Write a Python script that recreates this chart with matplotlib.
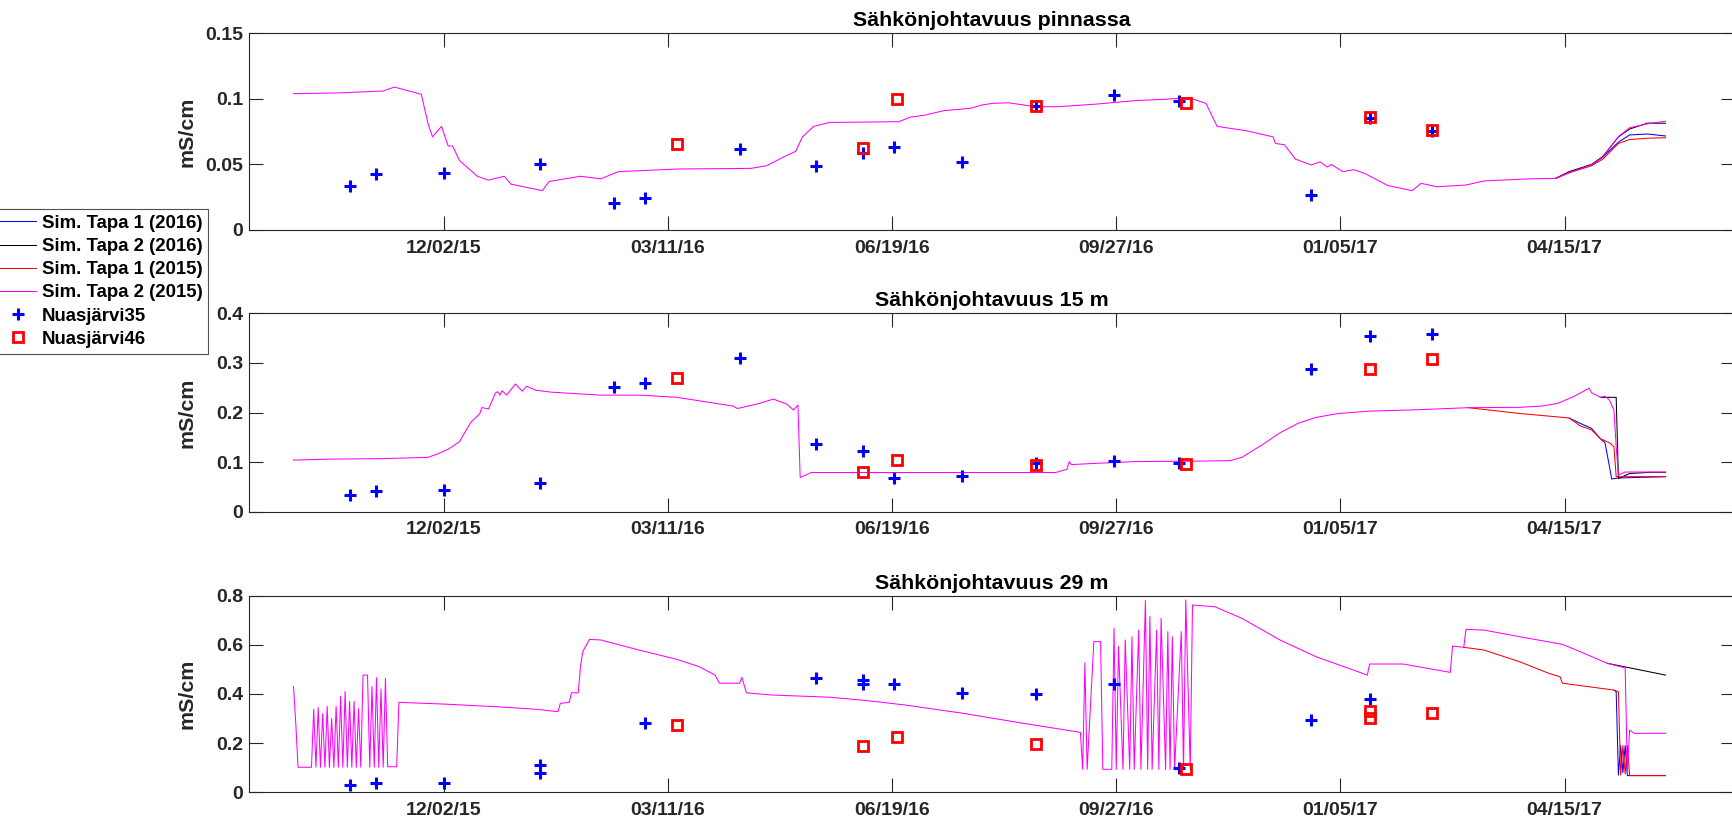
import matplotlib
matplotlib.use("Agg")
import matplotlib.pyplot as plt
import matplotlib.dates as mdates
import pandas as pd
from matplotlib.ticker import FuncFormatter, FixedLocator

plt.rcParams["font.family"] = ["Liberation Sans", "DejaVu Sans"]
plt.rcParams["font.weight"] = "bold"

titles = ["Sähkönjohtavuus pinnassa", "Sähkönjohtavuus 15 m", "Sähkönjohtavuus 29 m"]
labels = ["Sim. Tapa 1 (2016)", "Sim. Tapa 2 (2016)", "Sim. Tapa 1 (2015)",
          "Sim. Tapa 2 (2015)", "Nuasjärvi35", "Nuasjärvi46"]
tick_dates = ["2015-12-02", "2016-03-11", "2016-06-19", "2016-09-27", "2017-01-05", "2017-04-15"]

# --- pinnassa: Sim. Tapa 2 (2015) full path; the other runs only where they split off
p1_t = ["2015-09-26", "2015-10-15", "2015-11-05", "2015-11-10", "2015-11-22", "2015-11-25",
        "2015-11-27", "2015-12-01", "2015-12-04", "2015-12-06", "2015-12-09", "2015-12-17",
        "2015-12-22", "2015-12-29", "2016-01-01", "2016-01-15", "2016-01-18", "2016-02-01",
        "2016-02-10", "2016-02-18", "2016-03-15", "2016-04-17", "2016-04-24", "2016-05-02",
        "2016-05-07", "2016-05-10", "2016-05-15", "2016-05-22", "2016-06-22", "2016-06-27",
        "2016-07-04", "2016-07-12", "2016-07-24", "2016-07-29", "2016-08-03", "2016-08-10",
        "2016-08-22", "2016-09-01", "2016-09-18", "2016-10-05", "2016-10-19", "2016-10-29",
        "2016-11-06", "2016-11-11", "2016-11-24", "2016-12-06", "2016-12-07", "2016-12-11",
        "2016-12-16", "2016-12-23", "2016-12-27", "2016-12-30", "2017-01-01", "2017-01-06",
        "2017-01-11", "2017-01-16", "2017-01-26", "2017-02-06", "2017-02-10", "2017-02-17",
        "2017-03-02", "2017-03-10", "2017-03-30", "2017-04-11", "2017-04-17", "2017-04-27",
        "2017-05-02", "2017-05-09", "2017-05-14", "2017-05-22", "2017-05-30"]
p1_v = [.104, .1045, .106, .109, .1035, .081,
        .071, .079, .064, .064, .053, .041,
        .038, .041, .035, .030, .037, .041,
        .039, .0445, .0465, .047, .049, .056,
        .060, .071, .079, .082, .0826, .086,
        .0877, .091, .0928, .0953, .0966, .097,
        .094, .094, .096, .0986, .0997, .101,
        .0966, .079, .0757, .071, .066, .065,
        .054, .0496, .052, .048, .050, .0445,
        .046, .043, .034, .030, .0356, .033,
        .0343, .0374, .039, .0394, .0437, .0496,
        .0555, .0712, .078, .081, .083]
p1_split_t = ["2017-04-11", "2017-04-17", "2017-04-27", "2017-05-02", "2017-05-09", "2017-05-14",
              "2017-05-22", "2017-05-30"]
p1_blu = [.0394, .0437, .0496, .0555, .067, .0725, .0732, .0717]
p1_blk = [.0394, .0445, .050, .056, .071, .077, .0815, .0814]
p1_red = [.0394, .0437, .049, .054, .066, .069, .070, .0704]

# --- 15 m
p2_t = ["2015-09-26", "2015-10-12", "2015-11-05", "2015-11-25", "2015-11-29", "2015-12-04",
        "2015-12-09", "2015-12-14", "2015-12-18", "2015-12-19", "2015-12-22", "2015-12-25",
        "2015-12-26", "2015-12-27", "2015-12-28", "2015-12-30", "2016-01-03", "2016-01-06",
        "2016-01-08", "2016-01-12", "2016-01-19", "2016-02-10", "2016-02-28", "2016-03-15",
        "2016-04-09", "2016-04-11", "2016-04-21", "2016-04-27", "2016-05-03", "2016-05-06",
        "2016-05-08", "2016-05-09", "2016-05-14", "2016-08-31", "2016-09-05", "2016-09-06",
        "2016-09-07", "2016-09-18", "2016-10-05", "2016-11-03", "2016-11-17", "2016-11-22",
        "2016-12-01", "2016-12-09", "2016-12-17", "2016-12-25", "2017-01-04", "2017-01-19",
        "2017-02-05", "2017-03-03", "2017-03-26", "2017-04-05", "2017-04-12", "2017-04-19",
        "2017-04-26", "2017-04-27", "2017-05-01", "2017-05-03", "2017-05-05", "2017-05-07",
        "2017-05-08", "2017-05-09", "2017-05-12", "2017-05-30"]
p2_v = [.104, .106, .107, .1096, .116, .126,
        .141, .180, .197, .210, .207, .239,
        .242, .235, .244, .235, .2575, .243,
        .253, .245, .241, .235, .235, .2306,
        .213, .208, .2185, .227, .217, .205,
        .215, .069, .079, .079, .0855, .101,
        .095, .0975, .101, .102, .103, .1096,
        .1345, .159, .178, .190, .198, .203,
        .205, .2097, .2104, .213, .2185, .232,
        .249, .240, .2306, .233, .225, .205,
        .131, .074, .080, .080]
p2_blk_t = ["2017-05-01", "2017-05-08", "2017-05-09", "2017-05-14", "2017-05-23", "2017-05-30"]
p2_blk = [.2306, .2306, .067, .077, .0794, .0794]
p2_blu_t = ["2017-04-17", "2017-04-22", "2017-04-27", "2017-05-01",
            "2017-05-03", "2017-05-05", "2017-05-06", "2017-05-09", "2017-05-30"]
p2_blu = [.189, .178, .168, .147, .139, .091, .066, .068, .0706]
p2_red_t = ["2017-03-03", "2017-03-26", "2017-04-17", "2017-04-22", "2017-04-27", "2017-05-01",
            "2017-05-05", "2017-05-07", "2017-05-08", "2017-05-30"]
p2_red = [.2097, .198, .189, .173, .165, .147, .139, .131, .0706, .0706]

# --- 29 m
p3_t = ["2015-09-26", "2015-09-27", "2015-09-28", "2015-10-04",
        "2015-10-05", "2015-10-06", "2015-10-07", "2015-10-08", "2015-10-09", "2015-10-10",
        "2015-10-11", "2015-10-12", "2015-10-13", "2015-10-14", "2015-10-15", "2015-10-16",
        "2015-10-17", "2015-10-18", "2015-10-19", "2015-10-20", "2015-10-21", "2015-10-22",
        "2015-10-23", "2015-10-24", "2015-10-25", "2015-10-26", "2015-10-27", "2015-10-29",
        "2015-10-30", "2015-10-31", "2015-11-01", "2015-11-02", "2015-11-03", "2015-11-04",
        "2015-11-05", "2015-11-06", "2015-11-07", "2015-11-11", "2015-11-12",
        "2015-12-02", "2015-12-26", "2016-01-12", "2016-01-22", "2016-01-23", "2016-01-27",
        "2016-01-28", "2016-01-31", "2016-02-01", "2016-02-02", "2016-02-05", "2016-02-10",
        "2016-02-27", "2016-03-15", "2016-03-25", "2016-04-01", "2016-04-03", "2016-04-12",
        "2016-04-13", "2016-04-15", "2016-04-26", "2016-05-22", "2016-06-08", "2016-06-25",
        "2016-07-21", "2016-08-15", "2016-09-11",
        "2016-09-12", "2016-09-13", "2016-09-14", "2016-09-17", "2016-09-20", "2016-09-21",
        "2016-09-25", "2016-09-26", "2016-09-27", "2016-09-28", "2016-09-30", "2016-10-01",
        "2016-10-03", "2016-10-04", "2016-10-05", "2016-10-07", "2016-10-08", "2016-10-10",
        "2016-10-11", "2016-10-12", "2016-10-13", "2016-10-15", "2016-10-16", "2016-10-17",
        "2016-10-19", "2016-10-20", "2016-10-21", "2016-10-22", "2016-10-23", "2016-10-26",
        "2016-10-27", "2016-10-28", "2016-10-30", "2016-10-31",
        "2016-11-10", "2016-11-22", "2016-12-09", "2016-12-25", "2017-01-17", "2017-01-18",
        "2017-02-02", "2017-02-23", "2017-02-24", "2017-03-01",
        "2017-03-02", "2017-03-10", "2017-03-26", "2017-04-14", "2017-04-22", "2017-05-04",
        "2017-05-12", "2017-05-13", "2017-05-14", "2017-05-16", "2017-05-30"]
p3_v = [.43, .28, .102, .102,
        .338, .102, .345, .102, .32, .102,
        .35, .102, .30, .102, .35, .102,
        .39, .102, .41, .102, .37, .102,
        .37, .102, .34, .102, .477, .477,
        .102, .43, .102, .466, .102, .42,
        .102, .464, .104, .104, .366,
        .359, .348, .338, .328, .362, .366,
        .405, .405, .511, .572, .622, .620,
        .579, .541, .511, .477, .444, .444,
        .468, .405, .396, .387, .373, .355,
        .321, .283, .244,
        .0935, .527, .0935, .613, .613, .0935,
        .0935, .667, .0935, .593, .0935, .620,
        .0935, .633, .0935, .660, .0935, .780,
        .0935, .715, .0935, .660, .0935, .708,
        .0935, .654, .0935, .633, .0935, .654,
        .0935, .783, .0935, .762,
        .755, .708, .620, .552, .477, .522,
        .522, .488, .595, .590,
        .663, .660, .633, .602, .572, .525,
        .506, .08, .253, .240, .240]
p3_blk_t = ["2017-05-04", "2017-05-30"]
p3_blk = [.525, .477]
p3_blu_t = ["2017-05-07", "2017-05-08", "2017-05-09", "2017-05-10", "2017-05-11", "2017-05-12",
            "2017-05-13", "2017-05-30"]
p3_blu = [.416, .409, .070, .19, .08, .19, .068, .068]
p3_red_t = ["2017-03-01", "2017-03-10", "2017-03-26", "2017-04-08", "2017-04-13", "2017-04-14",
            "2017-05-07", "2017-05-09", "2017-05-10", "2017-05-11", "2017-05-12", "2017-05-13",
            "2017-05-14", "2017-05-30"]
p3_red = [.590, .579, .531, .484, .470, .444, .416, .409, .070, .19, .075, .19, .068, .068]

# --- observations
obs35_t = ["2015-10-21", "2015-11-02", "2015-12-02", "2016-01-14", "2016-02-16", "2016-03-01",
           "2016-04-12", "2016-05-16", "2016-06-06", "2016-06-20", "2016-07-20", "2016-08-22",
           "2016-09-26", "2016-10-25", "2016-12-23", "2017-01-18", "2017-02-15"]
p1_obs35 = [.0338, .0425, .0432, .0501, .0208, .0246, .0618, .0491, .0585, .0636, .0521, .0946,
            .1030, .0986, .0267, .0852, .0757]
p2_obs35 = [.0337, .0424, .0437, .0585, .2508, .2589, .3093, .1365, .1218, .0673, .072, .0975,
            .1022, .0988, .2871, .3549, .3583]
p3_obs35_t = ["2015-10-21", "2015-11-02", "2015-12-02", "2016-01-14", "2016-01-14", "2016-03-01",
              "2016-05-16", "2016-06-06", "2016-06-06", "2016-06-20", "2016-07-20", "2016-08-22",
              "2016-09-26", "2016-10-25", "2016-12-23", "2017-01-18"]
p3_obs35 = [.030, .039, .039, .111, .077, .281, .467, .457, .441, .439, .405, .400, .441, .0977, .294, .380]

obs46_t = ["2016-03-15", "2016-06-06", "2016-06-21", "2016-08-22", "2016-10-28", "2017-01-18", "2017-02-15"]
p1_obs46 = [.0654, .0623, .0997, .0946, .0966, .0860, .0763]
p2_obs46 = [.2702, .0794, .1042, .0942, .0962, .2877, .3079]
p3_obs46_t = ["2016-03-15", "2016-06-06", "2016-06-21", "2016-08-22", "2016-10-28", "2017-01-18",
              "2017-01-18", "2017-02-15"]
p3_obs46 = [.274, .190, .224, .197, .0935, .332, .301, .321]

ylims = [0.15, 0.4, 0.8]
ysteps = [0.05, 0.1, 0.2]

D = pd.to_datetime
dark = "#262626"


def draw_panel(ax, runs, o35_t, o35_v, o46_t, o46_v):
    # runs in legend order: blue, black, red, magenta
    for (tt, vv), c in zip(runs, ["#0000ff", "#000000", "#ff0000", "#ff00ff"]):
        ax.plot(D(tt), vv, color=c, lw=0.75)
    ax.plot(D(o35_t), o35_v, ls="none", marker="+", ms=9, mew=2.2, color="#0000ff")
    ax.plot(D(o46_t), o46_v, ls="none", marker="s", ms=6.5, mew=2.0,
            mec="#ff0000", mfc="none")


fig = plt.figure(figsize=(17.32, 8.27), dpi=100)
left = 248.7 / 1732
width = (1735 - 248.7) / 1732
boxes = [(230, 196.7), (511.7, 198.4), (792.3, 196.6)]
axes = [fig.add_axes([left, 1 - b / 827, width, h / 827]) for b, h in boxes]

draw_panel(axes[0], [(p1_split_t, p1_blu), (p1_split_t, p1_blk), (p1_split_t, p1_red), (p1_t, p1_v)],
           obs35_t, p1_obs35, obs46_t, p1_obs46)
draw_panel(axes[1], [(p2_blu_t, p2_blu), (p2_blk_t, p2_blk), (p2_red_t, p2_red), (p2_t, p2_v)],
           obs35_t, p2_obs35, obs46_t, p2_obs46)
draw_panel(axes[2], [(p3_blu_t, p3_blu), (p3_blk_t, p3_blk), (p3_red_t, p3_red), (p3_t, p3_v)],
           p3_obs35_t, p3_obs35, p3_obs46_t, p3_obs46)

for ax, title, ymax, ystep in zip(axes, titles, ylims, ysteps):
    ax.set_xlim(D("2015-09-06"), D("2017-06-30"))
    ax.set_ylim(0, ymax)
    n = int(round(ymax / ystep))
    ax.yaxis.set_major_locator(FixedLocator([i * ystep for i in range(n + 1)]))
    ax.yaxis.set_major_formatter(FuncFormatter(lambda v, _: f"{v:g}"))
    ax.set_xticks(D(tick_dates))
    ax.xaxis.set_major_formatter(mdates.DateFormatter("%m/%d/%y"))
    ax.tick_params(direction="in", length=10, width=0.8, color=dark, labelcolor=dark,
                   labelsize=14, top=True, right=True)
    ax.tick_params(axis="x", pad=7)
    ax.tick_params(axis="y", pad=4)
    for s in ax.spines.values():
        s.set_color(dark)
        s.set_linewidth(0.8)
    ax.set_title(title, fontsize=15.4, fontweight="bold", pad=5)
    ax.set_ylabel("mS/cm", fontsize=15.4, fontweight="bold", color=dark, va="center")
    ax.yaxis.set_label_coords(-0.0412, 0.5)

handles = axes[0].get_lines()
leg = fig.legend(handles, labels, loc="upper left", bbox_to_anchor=(-5.5 / 1732, 1 - 209 / 827),
                 bbox_transform=fig.transFigure, fontsize=13.4, frameon=True, fancybox=False,
                 edgecolor=dark, borderaxespad=0, borderpad=0.32, handlelength=1.9,
                 handletextpad=0.32, labelspacing=0.33)
leg.get_frame().set_linewidth(0.8)

fig.savefig("out.png", dpi=100)
